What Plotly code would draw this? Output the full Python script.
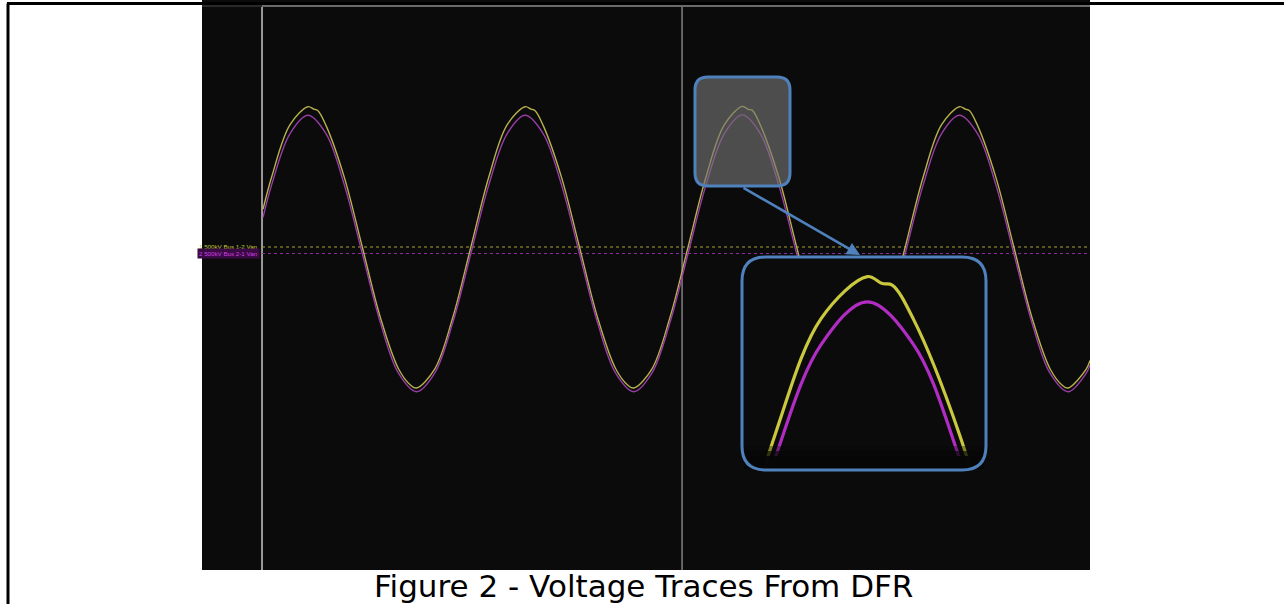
import plotly.graph_objects as go

# ---------------- data ----------------
# Channel 1: 500kV Bus 1-2 Van  (time in ms, voltage in kV)
t_bus12 = [4.69, 5.36, 6.75, 8.14, 8.59, 8.89, 9.53, 10.92, 12.31, 13.70, 15.09, 16.03, 16.48,
           17.87, 19.26, 20.65, 22.04, 23.43, 24.82, 25.27, 25.57, 26.21, 27.60, 28.99, 30.38,
           31.77, 32.71, 33.16, 34.55, 35.94, 37.33, 38.72, 40.11, 41.50, 41.95, 42.25, 42.89,
           44.28, 45.67, 47.06, 48.45, 49.39, 49.84, 51.23, 52.62, 54.01, 55.40, 56.79, 58.18,
           58.63, 58.93, 59.57, 60.96, 62.35, 63.74, 65.13, 66.07, 66.52, 67.91, 68.20]
v_bus12 = [110, 205, 355, 408, 401, 397, 353, 204, 0, -205, -354, -402, -410,
           -355, -205, 0, 205, 355, 408, 401, 397, 353, 204, 0, -205,
           -354, -402, -410, -355, -205, 0, 205, 355, 409, 400, 398, 354,
           205, 0, -205, -354, -402, -410, -355, -205, 0, 205, 355, 408,
           401, 397, 353, 204, 0, -205, -354, -402, -410, -355, -330]

# Channel 2: 500kV Bus 2-1 Van
t_bus21 = [4.69, 5.36, 6.75, 8.14, 9.53, 10.92, 12.31, 13.70, 15.09, 16.48, 17.87, 19.26,
           20.65, 22.04, 23.43, 24.82, 26.21, 27.60, 28.99, 30.38, 31.77, 33.16, 34.55, 35.94,
           37.33, 38.72, 40.11, 41.50, 42.89, 44.28, 45.67, 47.06, 48.45, 49.84, 51.23, 52.62,
           54.01, 55.40, 56.79, 58.18, 59.57, 60.96, 62.35, 63.74, 65.13, 66.52, 67.91, 68.20]
v_bus21 = [105, 201, 348, 402, 348, 201, 0, -201, -348, -402, -348, -201,
           0, 201, 348, 402, 348, 201, 0, -201, -348, -402, -348, -201,
           0, 201, 348, 403, 348, 201, 0, -201, -348, -402, -348, -201,
           0, 201, 348, 402, 348, 201, 0, -201, -348, -402, -348, -324]

channel_labels = ["1 500kV Bus 1-2 Van", "2 500kV Bus 2-1 Van"]
cursor_times = [4.61, 36.87]
inset_window = [37.3, 45.7]
caption = "Figure 2 - Voltage Traces From DFR"

# ---------------- layout geometry (pixels) ----------------
W, H = 1284, 604
PL, PR, PT, PB = 202, 1090, 0, 570   # plot area in px


def px(x, y):
    """pixel -> paper coordinates"""
    return (x - PL) / (PR - PL), (PB - y) / (PB - PT)


def rrect(x0, y0, x1, y1, r):
    def p(x, y):
        a, b = px(x, y)
        return f"{a:.5f},{b:.5f}"
    return (f"M {p(x0 + r, y0)} L {p(x1 - r, y0)} Q {p(x1, y0)} {p(x1, y0 + r)} "
            f"L {p(x1, y1 - r)} Q {p(x1, y1)} {p(x1 - r, y1)} "
            f"L {p(x0 + r, y1)} Q {p(x0, y1)} {p(x0, y1 - r)} "
            f"L {p(x0, y0 + r)} Q {p(x0, y0)} {p(x0 + r, y0)} Z")


YEL = "#b7b24c"
MAG = "#983ca6"
BLUE = "#4f81bd"
BG = "#0b0b0b"

fig = go.Figure()

# main traces
fig.add_trace(go.Scatter(x=t_bus12, y=v_bus12, mode="lines", xaxis="x", yaxis="y",
                         line=dict(color=YEL, width=1.4, shape="spline", smoothing=1.0),
                         name=channel_labels[0], hoverinfo="skip"))
fig.add_trace(go.Scatter(x=t_bus21, y=v_bus21, mode="lines", xaxis="x", yaxis="y2",
                         line=dict(color=MAG, width=1.4, shape="spline", smoothing=1.0),
                         name=channel_labels[1], hoverinfo="skip"))

# inset (zoom on the highlighted peak)
sel12 = [(t, v) for t, v in zip(t_bus12, v_bus12) if inset_window[0] <= t <= inset_window[1]]
sel21 = [(t, v) for t, v in zip(t_bus21, v_bus21) if inset_window[0] <= t <= inset_window[1]]
fig.add_trace(go.Scatter(x=[a for a, _ in sel21], y=[b for _, b in sel21], mode="lines",
                         xaxis="x2", yaxis="y4",
                         line=dict(color="#b02cc2", width=3.2, shape="spline", smoothing=1.0),
                         hoverinfo="skip"))
fig.add_trace(go.Scatter(x=[a for a, _ in sel12], y=[b for _, b in sel12], mode="lines",
                         xaxis="x2", yaxis="y3",
                         line=dict(color="#c9c83e", width=3.2, shape="spline", smoothing=1.0),
                         hoverinfo="skip"))

hidden = dict(visible=False, showgrid=False, zeroline=False, showticklabels=False, fixedrange=True)

ix0, iy0, ix1, iy1 = 743, 258, 985, 469   # inset box interior (px)
ixd = px(ix0, 0)[0], px(ix1, 0)[0]
iyd = px(0, iy1)[1], px(0, iy0)[1]

fig.update_layout(
    width=W, height=H,
    margin=dict(l=PL, r=W - PR, t=PT, b=H - PB, pad=0),
    paper_bgcolor="white", plot_bgcolor=BG,
    showlegend=False, hovermode=False,
    xaxis=dict(range=[0, 68.2], domain=[0, 1], **hidden),
    yaxis=dict(range=[-939.3, 718.3], domain=[0, 1], **hidden),
    yaxis2=dict(range=[-920.4, 737.2], overlaying="y", **hidden),
    xaxis2=dict(range=[37.75, 45.05], domain=list(ixd), anchor="y3", **hidden),
    yaxis3=dict(range=[160.3, 433], domain=list(iyd), anchor="x2", **hidden),
    yaxis4=dict(range=[186.9, 459.6], overlaying="y3", anchor="x2", **hidden),
)

shapes = []
# top grey strip line
a0, b0 = px(262, 6)
a1, _ = px(PR, 6)
shapes.append(dict(type="line", xref="paper", yref="paper", x0=px(PL, 6)[0], x1=a0, y0=b0, y1=b0,
                   line=dict(color="#2a2a2a", width=2), layer="above"))
shapes.append(dict(type="line", xref="paper", yref="paper", x0=a0, x1=a1, y0=b0, y1=b0,
                   line=dict(color="#6a6a6a", width=2), layer="above"))
# cursors
for i, ct in enumerate(cursor_times):
    shapes.append(dict(type="line", xref="x", yref="paper", x0=ct, x1=ct, y0=0, y1=px(0, 6)[1],
                       line=dict(color="#9a9a9a" if i == 0 else "#808080", width=2 if i == 0 else 1.5),
                       layer="below"))
# zero baselines (dotted)
shapes.append(dict(type="line", xref="x", yref="y", x0=cursor_times[0], x1=68.2, y0=0, y1=0,
                   line=dict(color="#a9a436", width=1, dash="dot"), layer="below"))
shapes.append(dict(type="line", xref="x", yref="y2", x0=cursor_times[0], x1=68.2, y0=0, y1=0,
                   line=dict(color="#8c2c9c", width=1, dash="dot"), layer="below"))
# highlight box
shapes.append(dict(type="path", xref="paper", yref="paper", path=rrect(695, 77, 790, 186, 13),
                   fillcolor="rgba(118,118,118,0.62)", line=dict(color=BLUE, width=3), layer="above"))
# inset bottom fade (vignette)
for yt, op in [(446, 0.35), (451, 0.65), (456, 0.95)]:
    shapes.append(dict(type="rect", xref="paper", yref="paper",
                       x0=px(744, 0)[0], x1=px(984, 0)[0], y0=px(0, 469)[1], y1=px(0, yt)[1],
                       fillcolor=f"rgba(6,6,6,{op})", line=dict(width=0), layer="above"))
# inset frame
shapes.append(dict(type="path", xref="paper", yref="paper", path=rrect(742, 257, 986, 470, 24),
                   fillcolor="rgba(0,0,0,0)", line=dict(color=BLUE, width=3), layer="above"))
# document frame (left and top rules)
shapes.append(dict(type="line", xref="paper", yref="paper", x0=px(8, 0)[0], x1=px(8, 0)[0],
                   y0=px(0, 3.5)[1], y1=px(0, 604)[1], line=dict(color="black", width=3), layer="above"))
shapes.append(dict(type="line", xref="paper", yref="paper", x0=px(7, 0)[0], x1=px(1284, 0)[0],
                   y0=px(0, 3.5)[1], y1=px(0, 3.5)[1], line=dict(color="black", width=3), layer="above"))
fig.update_layout(shapes=shapes)

ann = []
# arrow from highlight box to inset
hx, hy = px(860, 255)
ann.append(dict(x=hx, y=hy, xref="paper", yref="paper", text="", showarrow=True,
                ax=-118, ay=-68, arrowhead=2, arrowsize=1, arrowwidth=2.6, arrowcolor=BLUE))
# channel labels
lx, ly1 = px(260, 246)
_, ly2 = px(260, 253)
ann.append(dict(x=lx, y=ly1, xref="paper", yref="paper", text=channel_labels[0], showarrow=False,
                xanchor="right", yanchor="middle",
                font=dict(family="Liberation Sans", size=6.2, color="#c6cc3c")))
ann.append(dict(x=lx, y=ly2, xref="paper", yref="paper", text=channel_labels[1], showarrow=False,
                xanchor="right", yanchor="middle", bgcolor="#3a0a44",
                font=dict(family="Liberation Sans", size=6.2, color="#d040e0")))
# caption
cx, cy = px(643, 586)
ann.append(dict(x=cx, y=cy, xref="paper", yref="paper", text=caption, showarrow=False,
                xanchor="center", yanchor="middle",
                font=dict(family="DejaVu Sans", size=31, color="black")))
fig.update_layout(annotations=ann)

fig.write_html("out.html")
